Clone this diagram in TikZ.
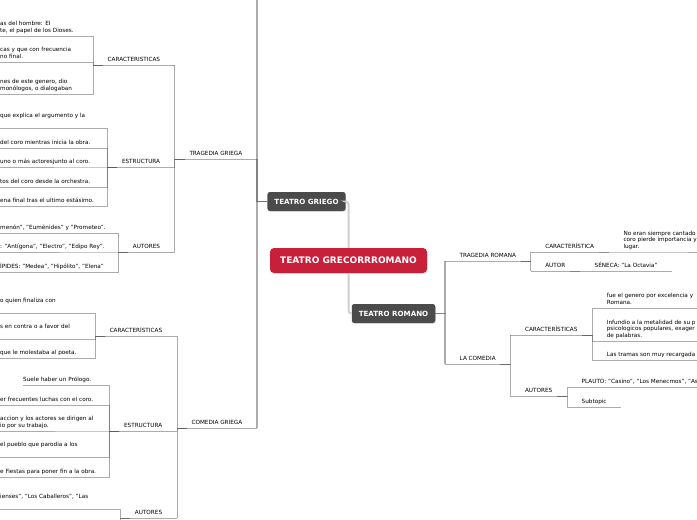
\documentclass[tikz,border=0pt]{standalone}
\usepackage{fontspec}
\setmainfont{DejaVu Sans}
\usetikzlibrary{positioning,shadows}
\definecolor{carmesi}{HTML}{C8203A}
\definecolor{pizarra}{HTML}{4B4B4B}
\definecolor{conector}{HTML}{5A5A5A}
\definecolor{tronco}{HTML}{CFCFCF}
\newcommand{\chico}{\fontsize{5.7}{6.3}\selectfont}

\tikzset{
  linea/.style={draw=conector, draw opacity=0.5, line width=0.7pt},
  rama/.style={linea, line width=1.3pt},
  troncal/.style={draw=tronco, line width=2pt, rounded corners=3pt},
  subrayado/.style={append after command={(\tikzlastnode.south west) edge[linea] (\tikzlastnode.south east)}},
  tema/.style={subrayado, font=\chico, inner xsep=14.5pt, inner ysep=2pt, text height=4.2pt, text depth=1.3pt},
  hojaizq/.style={font=\chico, anchor=south west, inner xsep=0pt, inner ysep=2.5pt, align=left, text depth=1.3pt},
  hojader/.style={hojaizq, inner xsep=14.5pt},
  hojacorta/.style={tema, anchor=south west},
  caja/.style={fill=pizarra, text=white, rounded corners=2.5pt, minimum height=19pt, inner xsep=7pt,
    font=\bfseries\fontsize{7.1}{8}\selectfont, drop shadow={opacity=0.25, shadow xshift=0.5pt, shadow yshift=-0.7pt}},
  raiz/.style={caja, fill=carmesi, minimum height=25pt, minimum width=157pt, rounded corners=4pt,
    font=\bfseries\fontsize{9}{10}\selectfont}
}

\begin{document}
\begin{tikzpicture}[x=1pt, y=-1pt]
\useasboundingbox (0,0) rectangle (697,520);
\clip (0,0) rectangle (697,520);

% nodos centrales
\node[raiz] (raiz) at (348.5,260.5) {TEATRO GRECORRROMANO};
\node[caja] (griego) at (306.5,201.5) {TEATRO GRIEGO};
\node[caja] (romano) at (393.5,313.5) {TEATRO ROMANO};
\draw[troncal] (raiz.north) |- (griego.east);
\draw[troncal] (raiz.south) |- (romano.west);

% teatro griego
\node[tema, anchor=south east] (tg) at (257,159) {TRAGEDIA GRIEGA};
\node[tema, anchor=south east] (cg) at (257,428) {COMEDIA GRIEGA};
\coordinate (arriba) at (257,-10);
\foreach \h in {arriba,tg.south east,cg.south east}
  \draw[rama] (griego.west) -| (\h);

% tragedia griega
\node[tema, anchor=south east] (tgcar) at (tg.south west |- 0,65) {CARACTERISTICAS};
\node[tema, anchor=south east] (tgest) at (tg.south west |- 0,167) {ESTRUCTURA};
\node[tema, anchor=south east] (tgaut) at (tg.south west |- 0,252) {AUTORES};
\foreach \h in {tgcar,tgest,tgaut}
  \draw[linea] (tg.south west) ++(10,0) -- (tg.south west) |- (\h.south east);

\foreach \n/\y/\txt in {tc1/36/{as del hombre: El\\te, el papel de los Dioses.},
    tc2/62/{cas y que con frecuencia\\no final.},
    tc3/94/{nes de este genero, dio\\ monólogos, o dialogaban}} {
  \node[hojaizq] (\n) at (0,\y) {\txt};
  \draw[linea] (tgcar.south west) ++(10,0) -- (tgcar.south west) |- (\n.south west);
}
\foreach \n/\y/\txt in {te1/128/{que explica el argumento y la\\\mbox{}},
    te2/148/{del coro mientras inicia la obra.},
    te3/167/{uno o más actoresjunto al coro.},
    te4/187/{tos del coro desde la orchestra.},
    te5/206/{ena final tras el ultimo estásimo.}} {
  \node[hojaizq] (\n) at (0,\y) {\txt};
  \draw[linea] (tgest.south west) ++(10,0) -- (tgest.south west) |- (\n.south west);
}
\foreach \n/\y/\txt in {ta1/233/{menón", "Euménides" y "Prometeo".},
    ta2/252/{: "Antígona", "Electro", "Edipo Rey".},
    ta3/272/{ÍPIDES: "Medea", "Hipólito", "Elena"}} {
  \node[hojaizq] (\n) at (0,\y) {\txt};
  \draw[linea] (tgaut.south west) ++(10,0) -- (tgaut.south west) |- (\n.south west);
}

% comedia griega
\node[tema, anchor=south east] (cgcar) at (cg.south west |- 0,336) {CARACTERÍSTICAS};
\node[tema, anchor=south east] (cgest) at (cg.south west |- 0,431) {ESTRUCTURA};
\node[tema, anchor=south east] (cgaut) at (cg.south west |- 0,518) {AUTORES};
\foreach \h in {cgcar,cgest,cgaut}
  \draw[linea] (cg.south west) ++(10,0) -- (cg.south west) |- (\h.south east);

\foreach \n/\y/\txt in {cc1/313/{o quien finaliza con\\\mbox{}},
    cc2/339/{s en contra o a favor del\\\mbox{}},
    cc3/358/{que le molestaba al poeta.}} {
  \node[hojaizq] (\n) at (0,\y) {\txt};
  \draw[linea] (cgcar.south west) ++(10,0) -- (cgcar.south west) |- (\n.south west);
}
\foreach \n/\x/\y/\txt in {ce1/23/385/{Suele haber un Prólogo.},
    ce2/0/405/{er frecuentes luchas con el coro.},
    ce3/0/431/{accion y los actores se dirigen al\\io por su trabajo.},
    ce4/0/457/{el pueblo que parodia a los\\\mbox{}},
    ce5/0/477/{e Fiestas para poner fin a la obra.}} {
  \node[hojaizq] (\n) at (\x,\y) {\txt};
  \draw[linea] (cgest.south west) ++(10,0) -- (cgest.south west) |- (\n.south west);
}
\node[hojaizq] (ca1) at (0,509) {ienses", "Los Caballeros", "Las\\\mbox{}};
\coordinate (abajo) at (cgaut.south west |- 0,530);
\draw[linea] (cgaut.south west) ++(10,0) -- (cgaut.south west) |- (ca1.south west);
\draw[linea] (cgaut.south west) ++(10,0) -- (cgaut.south west) -- (abajo);

% teatro romano
\node[tema, anchor=south west] (tr) at (445,261) {TRAGEDIA ROMANA};
\node[tema, anchor=south west] (lc) at (445,364) {LA COMEDIA};
\foreach \h in {tr,lc}
  \draw[rama] (romano.east) -| (\h.south west);

% tragedia romana
\node[tema, anchor=south west] (trcar) at (tr.south east |- 0,252) {CARACTERÍSTICA};
\node[tema, anchor=south west] (traut) at (tr.south east |- 0,271) {AUTOR};
\foreach \h in {trcar,traut}
  \draw[linea] (tr.south east) ++(-10,0) -- (tr.south east) |- (\h.south west);
\node[hojader] (trc1) at (trcar.south east) {No eran siempre cantado\\coro pierde importancia y\\lugar.};
\node[hojacorta] (tra1) at (traut.south east) {SÉNECA: "La Octavia"};
\draw[linea] (trcar.south east) ++(-10,0) -- (trcar.south east) |- (trc1.south west) -- ++(160,0);
\draw[linea] (traut.south east) ++(-10,0) -- (traut.south east) |- (tra1.south west);

% la comedia
\node[tema, anchor=south west] (lccar) at (lc.south east |- 0,335) {CARACTERÍSTICAS};
\node[tema, anchor=south west] (lcaut) at (lc.south east |- 0,396) {AUTORES};
\foreach \h in {lccar,lcaut}
  \draw[linea] (lc.south east) ++(-10,0) -- (lc.south east) |- (\h.south west);

\foreach \n/\y/\txt in {lcc1/308/{fue el genero por excelencia y\\Romana.},
    lcc2/341/{Infundio a la metalidad de su p\\psicologicos populares, exager\\de palabras.},
    lcc3/360/{Las tramas son muy recargada}} {
  \node[hojader] (\n) at (lccar.south east |- 0,\y) {\txt};
  \draw[linea] (lccar.south east) ++(-10,0) -- (lccar.south east) |- (\n.south west) -- ++(160,0);
}
\node[hojader] (lca1) at (lcaut.south east |- 0,387) {PLAUTO: "Casino", "Los Menecmos", "Asi};
\node[hojacorta] (lca2) at (lcaut.south east |- 0,407) {Subtopic};
\draw[linea] (lcaut.south east) ++(-10,0) -- (lcaut.south east) |- (lca1.south west) -- ++(160,0);
\draw[linea] (lcaut.south east) ++(-10,0) -- (lcaut.south east) |- (lca2.south west);
\end{tikzpicture}
\end{document}
